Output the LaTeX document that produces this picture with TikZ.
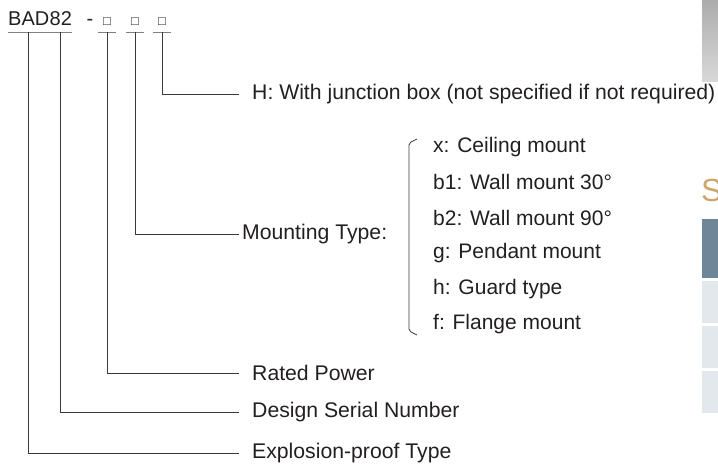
\documentclass[tikz,border=0pt]{standalone}
\usepackage{fontspec}
\setmainfont{Liberation Sans}
\usetikzlibrary{positioning}

\definecolor{txtgray}{HTML}{231F20}
\definecolor{linegray}{HTML}{3A3A3A}
\definecolor{ulgray}{HTML}{808080}
\definecolor{panelblue}{HTML}{6F8699}
\definecolor{rowgray}{HTML}{E3E8EC}
\definecolor{headtan}{HTML}{CDA66C}

\tikzset{
  code/.style={inner xsep=0pt, inner ysep=6pt, anchor=base west, text=txtgray,
    font=\fontsize{20}{24}\selectfont},
  blank/.style={inner xsep=5pt, inner ysep=6pt, anchor=base, text=txtgray,
    font=\fontsize{13}{15}\selectfont},
  lbl/.style={anchor=west, inner xsep=13pt, inner ysep=0pt, text=txtgray,
    font=\fontsize{21.2}{25}\selectfont},
  opt/.style={anchor=west, inner sep=0pt, text=txtgray,
    font=\fontsize{21}{25}\selectfont},
  conn/.style={draw=linegray, line width=0.8pt},
  uline/.style={draw=ulgray, line width=1.3pt}
}

\begin{document}
\begin{tikzpicture}[x=1pt, y=-1pt]
    \useasboundingbox (0,0) rectangle (718,465);

    % Cut-off panels of the page on the right
    \shade[top color=gray!65, bottom color=gray!30] (702,0) rectangle (718,82);
    \node[anchor=base west, inner sep=0pt, text=headtan,
      font=\fontsize{32}{36}\selectfont] (spec) at (701,202) {S};
    \fill[panelblue] (702,219) rectangle (718,278);
    \foreach \top in {281, 326, 371} {
        \fill[rowgray] (702,\top) rectangle (718,\top+42);
    }

    % Model code
    \node[code] (bad) at (8,26) {BAD};
    \node[code] (num) at (bad.base east) {82};
    \node[anchor=base, inner sep=0pt, text=txtgray,
      font=\fontsize{20}{24}\selectfont] (dash) at (90,26) {-};
    \node[blank] (sqa) at (107,26) {□};
    \node[blank] (sqb) at (135,26) {□};
    \node[blank] (sqc) at (162,26) {□};

    % Underlines of the code parts
    \foreach \part in {bad, num, sqa, sqb, sqc} {
        \draw[uline] (\part.south west) -- (\part.south east);
    }

    % Labels
    \node[lbl] (junction) at (239,94) {H: With junction box (not specified if not required)};
    \node[lbl, inner xsep=3pt] (mount) at (239,234) {Mounting Type:};
    \node[lbl] (power) at (239,373) {Rated Power};
    \node[lbl] (design) at (239,412) {Design Serial Number};
    \node[lbl] (explo) at (239,453) {Explosion-proof Type};

    % Mounting options
    \foreach \txt [count=\i] in {x: Ceiling mount, b1: Wall mount 30°, b2: Wall mount 90°,
        g: Pendant mount, h: Guard type, f: Flange mount} {
        \node[opt] (opt\i) at (433, {147+35.4*(\i-1)}) {\txt};
    }
    \draw[conn, rounded corners=2pt] (417,139) -- (409,143) -- (409,331) -- (417,335);

    % Leader lines
    \draw[conn] (bad.south) |- (explo.west);
    \draw[conn] (num.south) |- (design.west);
    \draw[conn] (sqa.south) |- (power.west);
    \draw[conn] (sqb.south) |- (mount.west);
    \draw[conn] (sqc.south) |- (junction.west);

\end{tikzpicture}
\end{document}
